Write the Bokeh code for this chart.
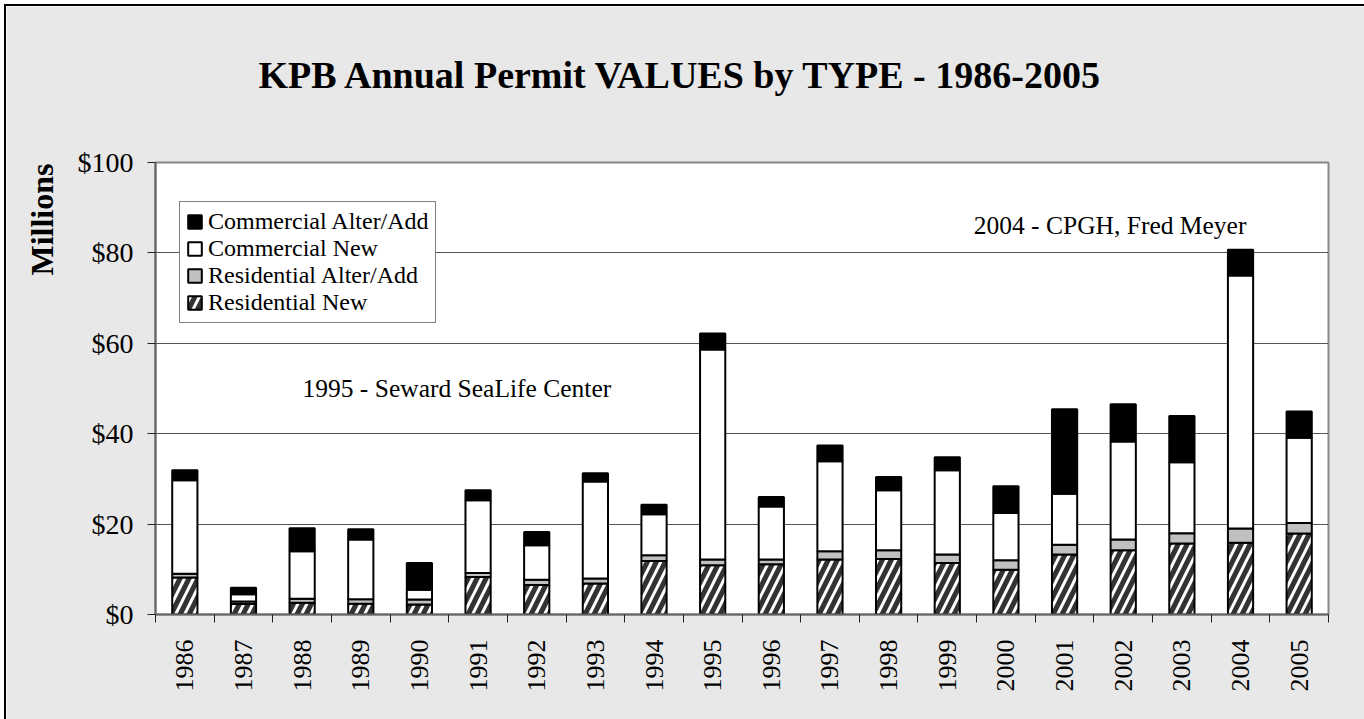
from bokeh.plotting import figure
from bokeh.models import (Range1d, FixedTicker, PrintfTickFormatter, Legend, LegendItem,
                          Label, Title, ColumnDataSource)
from bokeh.embed import file_html
from bokeh.resources import INLINE
import math

years = [str(y) for y in range(1986, 2006)]
res_new = [8.2, 2.3, 2.6, 2.4, 2.2, 8.3, 6.5, 6.85, 11.85, 10.9, 11.1, 12.15, 12.3, 11.4, 9.9, 13.3, 14.2, 15.7, 15.9, 17.9]
res_alt = [0.8, 0.6, 0.9, 1.0, 1.1, 0.9, 1.2, 1.1, 1.25, 1.25, 1.05, 1.85, 1.9, 1.9, 2.1, 2.15, 2.4, 2.3, 3.1, 2.35]
com_new = [20.7, 1.6, 10.5, 13.2, 2.2, 16.1, 7.6, 21.5, 9.1, 46.5, 11.75, 19.9, 13.3, 18.6, 10.45, 11.25, 21.7, 15.7, 56.0, 18.85]
com_alt = [2.2, 1.4, 5.1, 2.25, 5.9, 2.2, 2.95, 1.8, 2.1, 3.5, 2.1, 3.5, 2.9, 2.9, 5.95, 18.7, 8.2, 10.2, 5.7, 5.8]
series_names = ["Residential New", "Residential Alter/Add", "Commercial New", "Commercial Alter/Add"]
y_ticks = [0, 20, 40, 60, 80, 100]

FONT = "Liberation Serif"
BG = "#e8e8e8"
n = len(years)
centers = [i + 0.5 for i in range(n)]
src = ColumnDataSource(dict(x=centers, rn=res_new, ra=res_alt, cn=com_new, ca=com_alt))

p = figure(frame_width=1173, frame_height=452, output_backend="svg", toolbar_location=None,
           x_range=Range1d(0, n), y_range=Range1d(0, 100),
           min_border_left=149, min_border_right=36, min_border_top=156, min_border_bottom=105)
p.styles = {"border-left": "2px solid black", "border-top": "2px solid black",
            "margin-left": "4px", "margin-top": "4px"}
p.border_fill_color = BG
p.background_fill_color = "white"
p.outline_line_color = "#888888"
p.outline_line_width = 2

renderers = p.vbar_stack(["rn", "ra", "cn", "ca"], x="x", width=0.43, source=src,
                         fill_color=["#333333", "#c0c0c0", "white", "black"],
                         line_color="black", line_width=2,
                         hatch_pattern=["/", " ", " ", " "],
                         hatch_color="white", hatch_weight=3, hatch_scale=18)

legend = Legend(items=[LegendItem(label=series_names[k], renderers=[renderers[k]]) for k in [3, 2, 1, 0]],
                location=(24, 291))
legend.label_text_font = FONT
legend.label_text_font_size = "24px"
legend.label_text_color = "black"
legend.label_height = 24
legend.glyph_height = 17
legend.glyph_width = 17
legend.spacing = 0
legend.padding = 6
legend.margin = 0
legend.label_standoff = 5
legend.border_line_color = "black"
legend.border_line_width = 1
legend.background_fill_color = "white"
legend.background_fill_alpha = 1
p.add_layout(legend, "center")

# axes
xa = p.xaxis[0]
xa.ticker = FixedTicker(ticks=centers, minor_ticks=list(range(n + 1)))
xa.major_label_overrides = {c: y for c, y in zip(centers, years)}
xa.major_label_orientation = math.pi / 2
xa.major_tick_line_color = None
xa.major_tick_out = 0
xa.major_tick_in = 0
xa.minor_tick_out = 8
xa.minor_tick_in = 0
xa.minor_tick_line_color = "#222222"
xa.minor_tick_line_width = 1
xa.major_label_standoff = 17
xa.major_label_text_font = FONT
xa.major_label_text_font_size = "26px"
xa.major_label_text_color = "black"
xa.axis_line_color = "#666666"
xa.axis_line_width = 2

ya = p.yaxis[0]
ya.ticker = FixedTicker(ticks=y_ticks)
ya.formatter = PrintfTickFormatter(format="$%d")
ya.major_tick_out = 8
ya.major_tick_in = 0
ya.minor_tick_line_color = None
ya.major_tick_line_color = "#222222"
ya.major_label_standoff = 14
ya.major_label_text_font = FONT
ya.major_label_text_font_size = "28px"
ya.major_label_text_color = "black"
ya.axis_line_color = "#666666"
ya.axis_line_width = 2

p.xgrid.grid_line_color = None
p.ygrid.grid_line_color = "#555555"
p.ygrid.grid_line_width = 1

# titles: main title is outermost; an inner spacer (same colour as the background) lifts it
p.title = Title(text="KPB Annual Permit VALUES by TYPE - 1986-2005", align="left", offset=103,
                text_font=FONT, text_font_size="38px", text_font_style="bold",
                text_color="black", standoff=10)
p.add_layout(Title(text=".", text_font_size="10px", text_color=BG, standoff=52), "above")
p.add_layout(Title(text="Millions", align="right", offset=1,
                   text_font=FONT, text_font_size="32px", text_font_style="bold",
                   text_color="black", standoff=30), "left")

# annotations
p.add_layout(Label(x=2.506, y=49.9, text="1995 -  Seward SeaLife Center",
                   text_font=FONT, text_font_size="25.5px",
                   text_align="left", text_baseline="alphabetic", text_color="black"))
p.add_layout(Label(x=18.60, y=86.0, text="2004 - CPGH, Fred Meyer",
                   text_font=FONT, text_font_size="25.5px",
                   text_align="right", text_baseline="alphabetic", text_color="black"))

open("out.html", "w").write(file_html(p, INLINE))
